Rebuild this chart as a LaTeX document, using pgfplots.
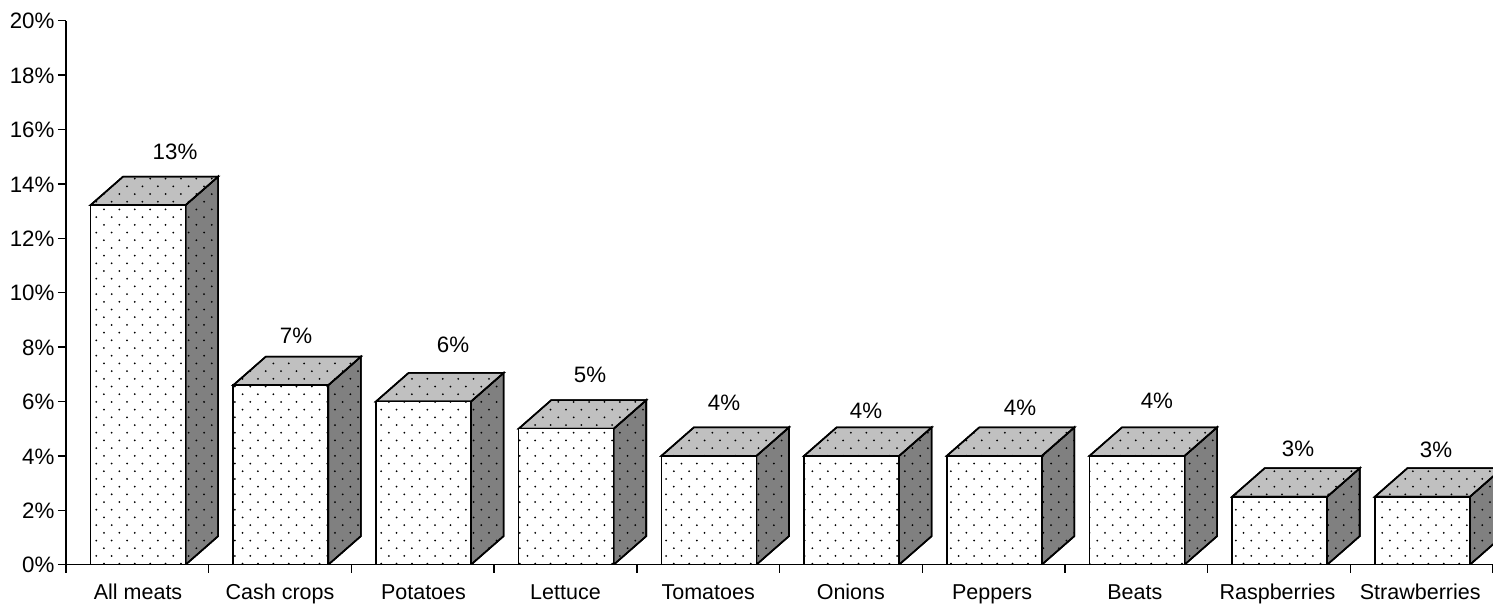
\documentclass[border=0pt]{standalone}
\usepackage{fontspec}
\setmainfont{Liberation Sans}
\usepackage{pgfplots}
\pgfplotsset{compat=1.18}
\usetikzlibrary{patterns}

% Staggered dot screen used on every face of the blocks
\pgfdeclarepatternformonly{screen}{\pgfpoint{-2bp}{-2bp}}{\pgfpoint{15.4bp}{15.4bp}}{\pgfpoint{15.4bp}{15.4bp}}{%
  \pgfpathcircle{\pgfpoint{3.85bp}{3.85bp}}{1bp}
  \pgfpathcircle{\pgfpoint{11.55bp}{11.55bp}}{1bp}
  \pgfusepath{fill}}

\definecolor{topface}{HTML}{C0C0C0}
\definecolor{sideface}{HTML}{808080}

% Block depth and front-face placement, in axis units
\def\bl{0.172}
\def\bw{0.666}
\def\dx{0.2285}
\def\dy{1.05}

% One block: #1 = category index, #2 = value in percent
\newcommand{\block}[2]{%
  \addplot[draw=black, fill=sideface, postaction={pattern=screen}, forget plot]
    coordinates {({#1+\bl+\bw},0) ({#1+\bl+\bw+\dx},\dy) ({#1+\bl+\bw+\dx},{#2+\dy}) ({#1+\bl+\bw},#2)} -- cycle;
  \addplot[draw=black, fill=topface, postaction={pattern=screen}, forget plot]
    coordinates {({#1+\bl},#2) ({#1+\bl+\bw},#2) ({#1+\bl+\bw+\dx},{#2+\dy}) ({#1+\bl+\dx},{#2+\dy})} -- cycle;
  \addplot[draw=black, fill=white, postaction={pattern=screen}, forget plot]
    coordinates {({#1+\bl},0) ({#1+\bl+\bw},0) ({#1+\bl+\bw},#2) ({#1+\bl},#2)} -- cycle;
}

\begin{document}
\begin{tikzpicture}[line join=miter]
\path[use as bounding box] (-66bp,-41.3bp) rectangle (1427bp,564.7bp);
\begin{axis}[
  at={(0,0)}, anchor=south west,
  scale only axis, width=1427bp, height=544bp,
  xmin=0, xmax=10, ymin=0, ymax=20,
  axis x line=bottom, axis y line=left,
  axis line style={-, line width=1.5bp},
  every tick/.style={black, line width=1.4bp},
  tick align=outside,
  major tick length=8bp,
  xtick={0,1,2,3,4,5,6,7,8,9,10},
  xticklabels={},
  extra x ticks={0.505,1.5,2.505,3.5,4.5,5.5,6.49,7.49,8.49,9.49},
  extra x tick labels={All meats,Cash crops,Potatoes,Lettuce,Tomatoes,Onions,Peppers,Beats,Raspberries,Strawberries},
  extra x tick style={major tick length=0pt, tick label style={font=\fontsize{21.5bp}{25bp}\selectfont, yshift=-15.3bp, text height=16bp, text depth=5bp}},
  ytick={0,2,4,6,8,10,12,14,16,18,20},
  yticklabels={0\%,2\%,4\%,6\%,8\%,10\%,12\%,14\%,16\%,18\%,20\%},
  tick label style={font=\fontsize{22.3bp}{25bp}\selectfont},
  y tick label style={yshift=-0.6bp},
  clip=true,
  every axis plot/.append style={line width=1.6bp},
]
\block{0}{13.22}
\block{1}{6.6}
\block{2}{6}
\block{3}{5}
\block{4}{4}
\block{5}{4}
\block{6}{4}
\block{7}{4}
\block{8}{2.5}
\block{9}{2.5}
\def\vl#1#2#3{\node[font=\fontsize{22.3bp}{25bp}\selectfont, yshift=-0.8bp] at (axis cs:#1,#2) {#3\%};}
\vl{0.764}{15.22}{13}
\vl{1.612}{8.45}{7}
\vl{2.712}{8.12}{6}
\vl{3.672}{6.99}{5}
\vl{4.611}{5.99}{4}
\vl{5.606}{5.70}{4}
\vl{6.686}{5.81}{4}
\vl{7.645}{6.07}{4}
\vl{8.634}{4.30}{3}
\vl{9.601}{4.26}{3}
\end{axis}
\end{tikzpicture}
\end{document}
